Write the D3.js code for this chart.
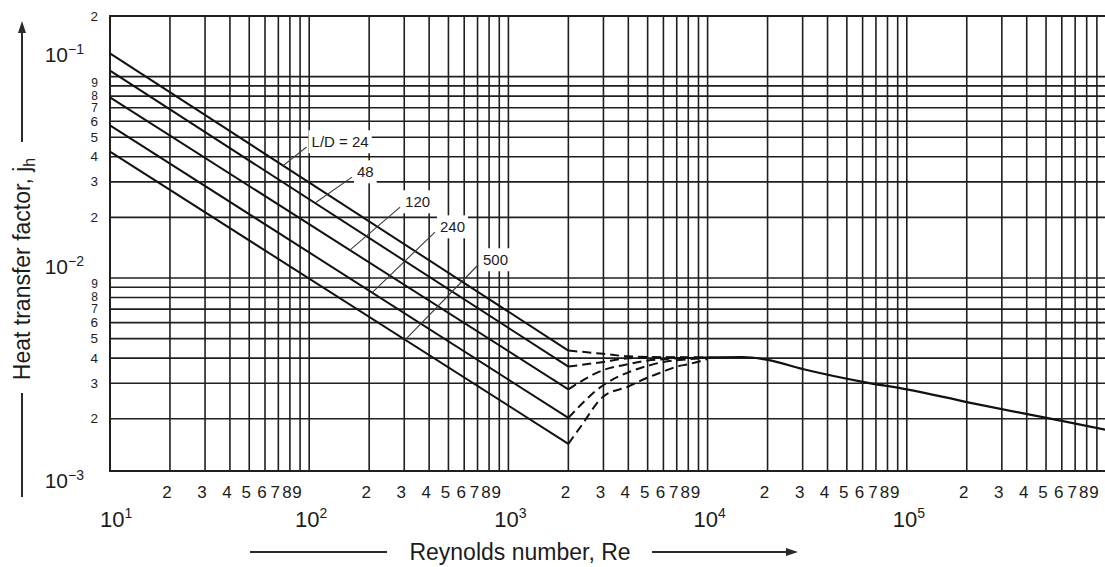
<!DOCTYPE html>
<html>
<head>
<meta charset="utf-8">
<script src="https://cdn.jsdelivr.net/npm/d3@7"></script>
<style>
  body { margin: 0; background: #fff; }
  text { font-family: "Liberation Sans", Arial, Helvetica, sans-serif; fill: #1c1c1c; }
</style>
</head>
<body>
<div id="chart"></div>
<script>
// ---- chart data ----
var reDecades = [10, 100, 1000, 10000, 100000];
var gridMultipliers = [1, 2, 3, 4, 5, 6, 7, 8, 9];
var tickDigits = [2, 3, 4, 5, 6, 7, 8, 9];
var reDecadeLabels = ["1", "2", "3", "4", "5"];
var jhDecades = [0.001, 0.01, 0.1];
var jhDecadeLabels = ["\u22123", "\u22122", "\u22121"];

// L/D curves, laminar part (straight lines on log-log paper)
var ldValues = [24, 48, 120, 240, 500];
var laminarRe = [10, 2000];
var laminarJh24 = [0.1305, 0.00436];
var laminarJh48 = [0.107, 0.00363];
var laminarJh120 = [0.0789, 0.0028];
var laminarJh240 = [0.0573, 0.00202];
var laminarJh500 = [0.0424, 0.0015];

// transition region (dashed)
var transRe24 = [2000, 3000, 4000, 6000, 10000];
var transJh24 = [0.00436, 0.0042, 0.00408, 0.00404, 0.00403];
var transRe48 = [2000, 3000, 4000, 6000, 10000];
var transJh48 = [0.00363, 0.00383, 0.00399, 0.00403, 0.00403];
var transRe120 = [2000, 3000, 4000, 5000, 6000, 8000, 10000];
var transJh120 = [0.0028, 0.00349, 0.00373, 0.00389, 0.00395, 0.00401, 0.00403];
var transRe240 = [2000, 3000, 4000, 5000, 6000, 8000, 10000];
var transJh240 = [0.00202, 0.00294, 0.0034, 0.00366, 0.00383, 0.00395, 0.00401];
var transRe500 = [2000, 2300, 3000, 4000, 5000, 6000, 7000, 8000, 9000, 10000];
var transJh500 = [0.0015, 0.00182, 0.00258, 0.00289, 0.0032, 0.00343, 0.00363, 0.00373, 0.00384, 0.00396];

// turbulent region (single solid curve)
var turbRe = [10000, 15000, 20000, 30000, 60000, 100000, 200000, 600000, 1000000];
var turbJh = [0.00403, 0.00405, 0.00392, 0.00353, 0.00305, 0.0028, 0.00242, 0.00195, 0.00176];

// curve labels and their leader lines
var ldLabels = ["L/D = 24", "48", "120", "240", "500"];
var leaderCurveRe = [74, 107, 160, 207, 303];
var leaderLabelRe = [97, 164, 286, 428, 704];
var leaderLabelJh = [0.0447, 0.0317, 0.0225, 0.0169, 0.0116];

// ---- layout ----
var svgWidth = 1105;
var svgHeight = 567;
var plot = { left: 110, right: 1106, top: 16, bottom: 471 };

var svg = d3.select("#chart")
  .append("svg")
  .attr("width", svgWidth)
  .attr("height", svgHeight)
  .style("display", "block");

var x = d3.scaleLog().domain([10, 1e6]).range([plot.left, plot.right]);
var y = d3.scaleLog().domain([0.0011, 0.2]).range([plot.bottom, plot.top]);

var gridColor = "#1f1f1f";

// ---- grid ----
var xGrid = [];
reDecades.forEach(function(d) {
  gridMultipliers.forEach(function(k) { xGrid.push(k * d); });
});
xGrid.push(1e6);

var yGrid = [];
tickDigits.forEach(function(k) { yGrid.push(k * 0.001); });
gridMultipliers.forEach(function(k) { yGrid.push(k * 0.01); });
yGrid.push(0.1);

var gridGroup = svg.append("g");

gridGroup.selectAll(".vline")
  .data(xGrid)
  .enter()
  .append("line")
  .attr("x1", d => x(d))
  .attr("x2", d => x(d))
  .attr("y1", plot.top)
  .attr("y2", plot.bottom)
  .attr("stroke", gridColor)
  .attr("stroke-width", 1.6);

gridGroup.selectAll(".hline")
  .data(yGrid)
  .enter()
  .append("line")
  .attr("x1", plot.left)
  .attr("x2", plot.right)
  .attr("y1", d => y(d))
  .attr("y2", d => y(d))
  .attr("stroke", gridColor)
  .attr("stroke-width", 1.6);

// frame
gridGroup.append("rect")
  .attr("x", plot.left)
  .attr("y", plot.top)
  .attr("width", plot.right - plot.left)
  .attr("height", plot.bottom - plot.top)
  .attr("fill", "none")
  .attr("stroke", gridColor)
  .attr("stroke-width", 2);

// ---- curves ----
function pts(res, jhs) {
  return res.map(function(r, i) { return { re: r, jh: jhs[i] }; });
}

var straight = d3.line().x(d => x(d.re)).y(d => y(d.jh));
var smooth = d3.line().x(d => x(d.re)).y(d => y(d.jh)).curve(d3.curveMonotoneX);

var laminarSets = [laminarJh24, laminarJh48, laminarJh120, laminarJh240, laminarJh500];
var transSets = [
  pts(transRe24, transJh24),
  pts(transRe48, transJh48),
  pts(transRe120, transJh120),
  pts(transRe240, transJh240),
  pts(transRe500, transJh500)
];

var curveGroup = svg.append("g").attr("fill", "none").attr("stroke", "#111");

curveGroup.selectAll(".laminar")
  .data(laminarSets)
  .enter()
  .append("path")
  .attr("d", d => straight(pts(laminarRe, d)))
  .attr("stroke-width", 2);

curveGroup.selectAll(".transition")
  .data(transSets)
  .enter()
  .append("path")
  .attr("d", d => smooth(d))
  .attr("stroke-width", 2)
  .attr("stroke-dasharray", "9,5");

curveGroup.append("path")
  .attr("d", smooth(pts(turbRe, turbJh)))
  .attr("stroke-width", 2.2);

// ---- L/D labels with leader lines ----
function laminarAt(re, jhs) {
  // position along the straight laminar line (log-log interpolation)
  var t = (Math.log10(re) - Math.log10(laminarRe[0])) /
          (Math.log10(laminarRe[1]) - Math.log10(laminarRe[0]));
  return Math.pow(10, Math.log10(jhs[0]) + t * (Math.log10(jhs[1]) - Math.log10(jhs[0])));
}

var labelGroup = svg.append("g");

ldLabels.forEach(function(lbl, i) {
  var x0 = x(leaderCurveRe[i]);
  var y0 = y(laminarAt(leaderCurveRe[i], laminarSets[i]));
  var x1 = x(leaderLabelRe[i]);
  var y1 = y(leaderLabelJh[i]);

  labelGroup.append("line")
    .attr("x1", x0).attr("y1", y0)
    .attr("x2", x1).attr("y2", y1)
    .attr("stroke", "#3a3a3a")
    .attr("stroke-width", 1.1);

  var txt = labelGroup.append("text")
    .attr("x", x1 + 5)
    .attr("y", y1 - 5)
    .attr("dy", "0.35em")
    .style("font-size", "15px")
    .text(lbl);

  var bb = txt.node().getBBox();
  labelGroup.insert("rect", function() { return txt.node(); })
    .attr("x", bb.x - 3)
    .attr("y", bb.y - 3)
    .attr("width", bb.width + 6)
    .attr("height", bb.height + 6)
    .attr("fill", "#fff");
});

// ---- axis tick labels ----
var axisGroup = svg.append("g");

// x: 2..9 digits in each decade
var xDigitTicks = [];
reDecades.forEach(function(d) {
  tickDigits.forEach(function(k) { xDigitTicks.push({ v: k * d, k: k }); });
});

axisGroup.selectAll(".xdigit")
  .data(xDigitTicks)
  .enter()
  .append("text")
  .attr("x", d => x(d.v) - 3)
  .attr("y", 498)
  .attr("text-anchor", "middle")
  .style("font-size", "17px")
  .text(d => d.k);

// x: decade labels 10^n
reDecades.forEach(function(d, i) {
  var t = axisGroup.append("text")
    .attr("x", i === 0 ? x(d) - 10 : x(d) + 2)
    .attr("y", 527)
    .attr("text-anchor", i === 0 ? "start" : "middle")
    .style("font-size", "22px");
  t.append("tspan").text("10");
  t.append("tspan").attr("dy", -9).style("font-size", "14px").text(reDecadeLabels[i]);
});

// y: 2..9 digits in each decade, plus the "2" at the top
var yDigitTicks = [];
tickDigits.forEach(function(k) { yDigitTicks.push({ v: k * 0.001, k: k }); });
tickDigits.forEach(function(k) { yDigitTicks.push({ v: k * 0.01, k: k }); });
yDigitTicks.push({ v: 0.2, k: 2 });

// 7/8/9 are crowded: a touch smaller, and the 9 sits above its line as in the original
axisGroup.selectAll(".ydigit")
  .data(yDigitTicks)
  .enter()
  .append("text")
  .attr("x", 98)
  .attr("y", d => y(d.v) + (d.k >= 7 ? 4 : 4.5) - (d.k === 9 ? 3 : 0))
  .attr("text-anchor", "end")
  .style("font-size", d => d.k >= 7 ? "12px" : "13.5px")
  .text(d => d.k);

// y: decade labels 10^-n (placed as in the original figure)
var decadeShift = [9, -4, -15];
jhDecades.forEach(function(d, i) {
  var t = axisGroup.append("text")
    .attr("x", 84)
    .attr("y", y(d) + decadeShift[i])
    .attr("text-anchor", "end")
    .style("font-size", "21px");
  t.append("tspan").text("10");
  t.append("tspan").attr("dy", -8).style("font-size", "14px").text(jhDecadeLabels[i]);
});

// ---- axis titles with arrows ----
var arrowColor = "#2a2a2a";

svg.append("text")
  .attr("x", 520)
  .attr("y", 560)
  .attr("text-anchor", "middle")
  .style("font-size", "23px")
  .text("Reynolds number, Re");

svg.append("line")
  .attr("x1", 250).attr("x2", 387).attr("y1", 552).attr("y2", 552)
  .attr("stroke", arrowColor).attr("stroke-width", 2);
svg.append("line")
  .attr("x1", 652).attr("x2", 790).attr("y1", 552).attr("y2", 552)
  .attr("stroke", arrowColor).attr("stroke-width", 2);
svg.append("path")
  .attr("d", "M798,552 L786,548 L786,556 Z")
  .attr("fill", arrowColor);

var yTitle = svg.append("text")
  .attr("transform", "translate(30, 269) rotate(-90)")
  .attr("text-anchor", "middle")
  .style("font-size", "23px");
yTitle.append("tspan").text("Heat transfer factor, j");
yTitle.append("tspan").attr("dy", 5).style("font-size", "16px").text("h");

svg.append("line")
  .attr("x1", 22).attr("x2", 22).attr("y1", 142).attr("y2", 30)
  .attr("stroke", arrowColor).attr("stroke-width", 2);
svg.append("path")
  .attr("d", "M22,21 L18,33 L26,33 Z")
  .attr("fill", arrowColor);
svg.append("line")
  .attr("x1", 22).attr("x2", 22).attr("y1", 393).attr("y2", 497)
  .attr("stroke", arrowColor).attr("stroke-width", 2);
</script>
</body>
</html>
